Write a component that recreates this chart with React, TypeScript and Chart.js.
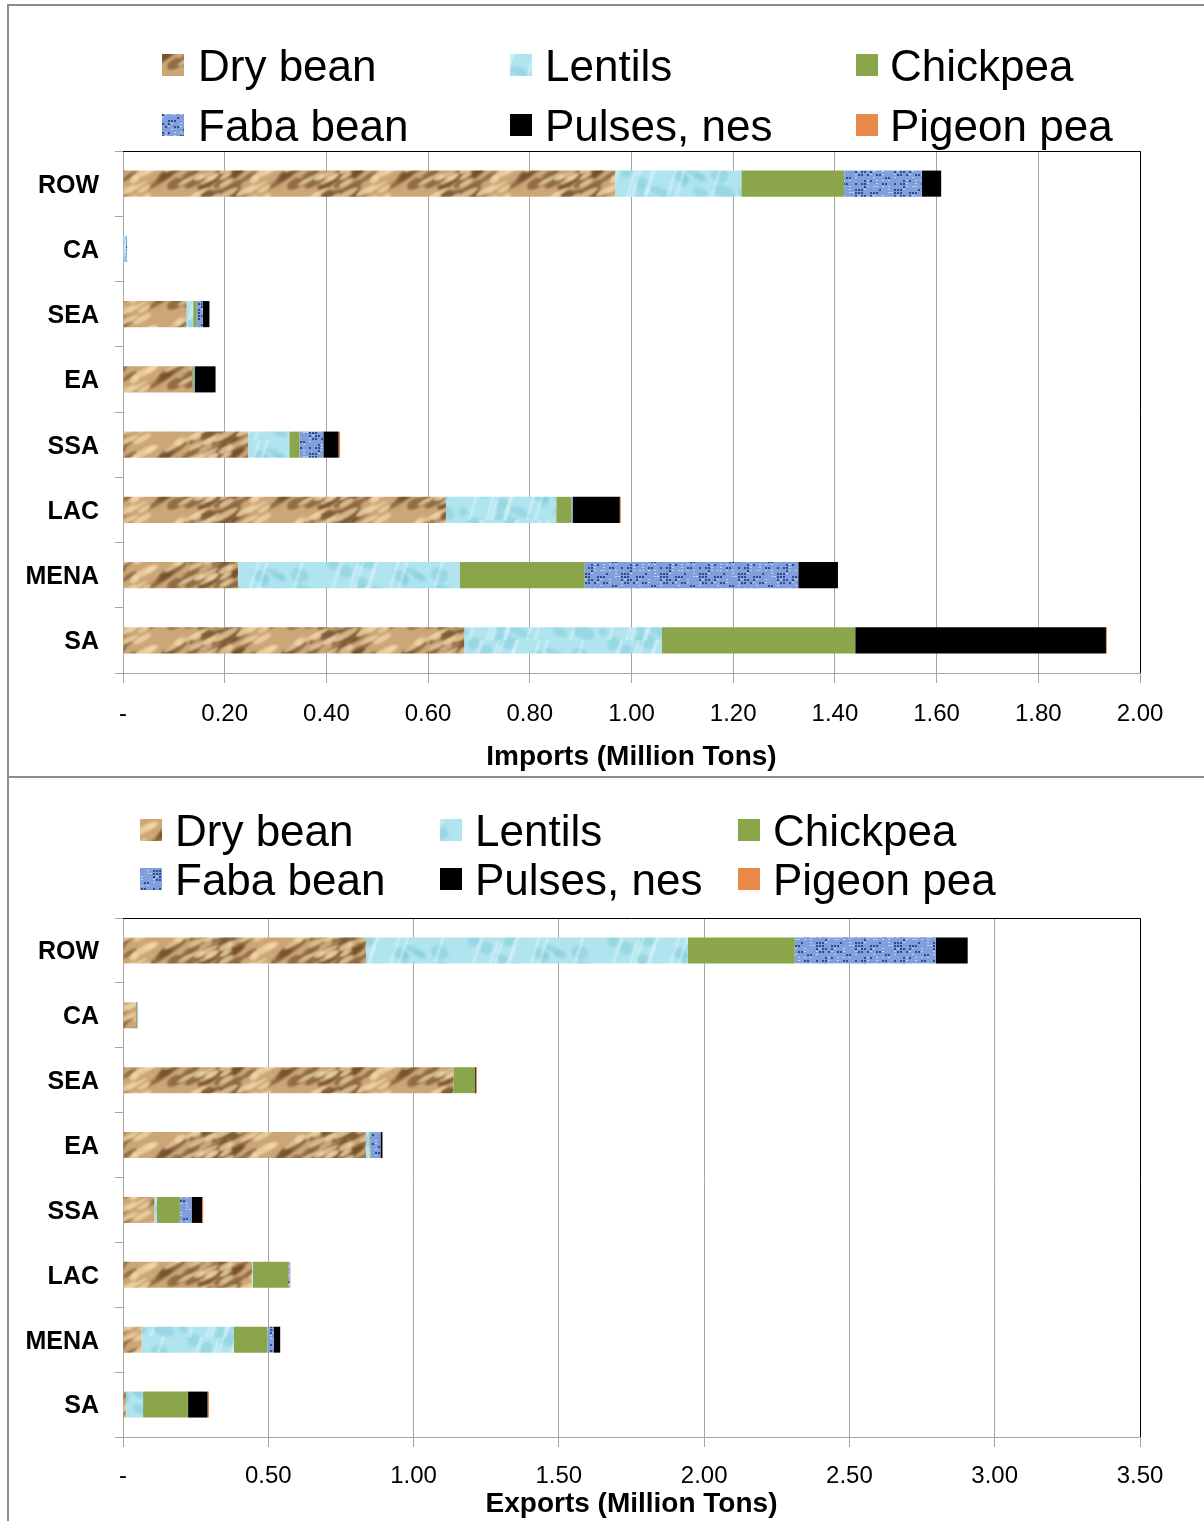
import React, { useEffect, useRef } from 'react';
import { Chart, registerables } from 'chart.js';
Chart.register(...registerables);

const regions = ['ROW', 'CA', 'SEA', 'EA', 'SSA', 'LAC', 'MENA', 'SA'];
const pulseTypes = ['Dry bean', 'Lentils', 'Chickpea', 'Faba bean', 'Pulses, nes', 'Pigeon pea'];

const importsDryBean = [0.968, 0, 0.125, 0.136, 0.246, 0.635, 0.226, 0.671];
const importsLentils = [0.248, 0.006, 0.013, 0, 0.081, 0.217, 0.436, 0.389];
const importsChickpea = [0.202, 0, 0.007, 0.003, 0.02, 0.03, 0.246, 0.38];
const importsFabaBean = [0.153, 0.002, 0.012, 0.002, 0.047, 0.003, 0.42, 0];
const importsPulsesNes = [0.038, 0, 0.013, 0.041, 0.03, 0.092, 0.078, 0.493];
const importsPigeonPea = [0, 0, 0, 0, 0.003, 0.002, 0, 0.002];

const exportsDryBean = [0.836, 0.045, 1.137, 0.836, 0.108, 0.444, 0.064, 0.01];
const exportsLentils = [1.108, 0, 0, 0.012, 0.009, 0.003, 0.318, 0.059];
const exportsChickpea = [0.368, 0.002, 0.075, 0.003, 0.079, 0.121, 0.115, 0.155];
const exportsFabaBean = [0.485, 0, 0, 0.035, 0.04, 0.005, 0.022, 0];
const exportsPulsesNes = [0.11, 0.002, 0.003, 0.007, 0.036, 0, 0.022, 0.067];
const exportsPigeonPea = [0, 0, 0.003, 0, 0.004, 0.003, 0, 0.005];

const importsAxis = { max: 2.0, step: 0.2, title: 'Imports (Million Tons)' };
const exportsAxis = { max: 3.5, step: 0.5, title: 'Exports (Million Tons)' };

const FONT = '"Liberation Sans", Arial, sans-serif';

function makeRand(seed: number) {
  let s = seed;
  return () => {
    s = (s * 16807) % 2147483647;
    return s / 2147483647;
  };
}

function tile(w: number, h: number, draw: (c: CanvasRenderingContext2D) => void) {
  const cv = document.createElement('canvas');
  cv.width = w;
  cv.height = h;
  const c = cv.getContext('2d')!;
  draw(c);
  return cv;
}

// draw an ellipse with wrapped copies so the tile is seamless
function wrapEllipse(c: CanvasRenderingContext2D, w: number, h: number, x: number, y: number, rx: number, ry: number, rot: number) {
  for (const dx of [-w, 0, w]) {
    for (const dy of [-h, 0, h]) {
      c.beginPath();
      c.ellipse(x + dx, y + dy, rx, ry, rot, 0, Math.PI * 2);
      c.fill();
    }
  }
}

function makeFills(ctx: CanvasRenderingContext2D) {
  const dry = tile(120, 40, (c) => {
    c.fillStyle = '#CCA676';
    c.fillRect(0, 0, 120, 40);
    const r = makeRand(7);
    c.filter = 'blur(1.2px)';
    for (let i = 0; i < 26; i++) {
      const x = r() * 120, y = r() * 40;
      c.fillStyle = 'rgba(105,70,36,0.6)';
      wrapEllipse(c, 120, 40, x, y, 7 + r() * 12, 2 + r() * 3, -0.55);
    }
    for (let i = 0; i < 24; i++) {
      const x = r() * 120, y = r() * 40;
      c.fillStyle = 'rgba(242,216,170,0.75)';
      wrapEllipse(c, 120, 40, x, y, 5 + r() * 9, 1.5 + r() * 2, -0.5);
    }
  });
  const lent = tile(140, 40, (c) => {
    c.fillStyle = '#B0E4EE';
    c.fillRect(0, 0, 140, 40);
    const r = makeRand(11);
    c.filter = 'blur(1px)';
    for (let i = 0; i < 14; i++) {
      c.fillStyle = 'rgba(125,200,215,0.45)';
      wrapEllipse(c, 140, 40, r() * 140, r() * 40, 4 + r() * 8, 3 + r() * 5, 0.4);
    }
    c.strokeStyle = 'rgba(228,248,252,0.9)';
    c.lineWidth = 1.5;
    for (let i = 0; i < 8; i++) {
      const x = r() * 110 + 10;
      c.beginPath();
      c.moveTo(x, 42);
      c.quadraticCurveTo(x + 6, 20, x + 14, -2);
      c.stroke();
    }
  });
  const faba = tile(39, 24, (c) => {
    c.fillStyle = '#819FDB';
    c.fillRect(0, 0, 39, 24);
    const r = makeRand(23);
    for (let y = 0; y < 24; y += 3) {
      for (let x = 0; x < 39; x += 3) {
        const v = r();
        if (v < 0.32) {
          c.fillStyle = '#2F4C8F';
          c.fillRect(x, y, 2, 2);
        } else if (v > 0.72) {
          c.fillStyle = '#C4D5F6';
          c.fillRect(x, y, 2, 1);
        }
      }
    }
  });
  return [
    ctx.createPattern(dry, 'repeat')!,
    ctx.createPattern(lent, 'repeat')!,
    '#8BA54B',
    ctx.createPattern(faba, 'repeat')!,
    '#000000',
    '#E8894A',
  ];
}

type LegendLayout = { iconX: number[]; textX: number[]; rowY: number[] };

function StackedChart(props: {
  series: number[][];
  axis: { max: number; step: number; title: string };
  height: number;
  padTop: number;
  padBottom: number;
  axisHeight: number;
  tickPad: number;
  legend: LegendLayout;
}) {
  const ref = useRef<HTMLCanvasElement | null>(null);
  useEffect(() => {
    const canvas = ref.current!;
    const ctx = canvas.getContext('2d')!;
    const fills = makeFills(ctx);
    const { legend } = props;

    const legendPlugin = {
      id: 'customLegend',
      afterDraw(chart: any) {
        const c = chart.ctx;
        c.save();
        pulseTypes.forEach((name, i) => {
          const col = i % 3;
          const row = Math.floor(i / 3);
          const cy = legend.rowY[row];
          c.fillStyle = fills[i];
          c.fillRect(legend.iconX[col], cy - 11, 22, 22);
          c.fillStyle = '#000';
          c.font = `44px ${FONT}`;
          c.textBaseline = 'alphabetic';
          c.textAlign = 'left';
          c.fillText(name, legend.textX[col], cy + 16);
        });
        c.restore();
      },
    };
    const borderPlugin = {
      id: 'plotBorder',
      afterDraw(chart: any) {
        const { top, right, left, bottom } = chart.chartArea;
        const c = chart.ctx;
        c.save();
        c.strokeStyle = '#000';
        c.lineWidth = 1;
        c.beginPath();
        c.moveTo(left, top + 0.5);
        c.lineTo(right + 0.5, top + 0.5);
        c.lineTo(right + 0.5, bottom);
        c.stroke();
        c.restore();
      },
    };

    const chart = new Chart(ctx, {
      type: 'bar',
      data: {
        labels: regions,
        datasets: pulseTypes.map((name, i) => ({
          label: name,
          data: props.series[i],
          backgroundColor: fills[i] as any,
          borderWidth: 0,
          barPercentage: 0.4,
          categoryPercentage: 1,
        })),
      },
      options: {
        indexAxis: 'y',
        animation: false,
        responsive: false,
        maintainAspectRatio: false,
        layout: { padding: { top: props.padTop, right: 64, left: 0, bottom: props.padBottom } },
        plugins: { legend: { display: false }, tooltip: { enabled: false }, title: { display: false } },
        scales: {
          x: {
            stacked: true,
            min: 0,
            max: props.axis.max,
            ticks: {
              stepSize: props.axis.step,
              autoSkip: false,
              maxRotation: 0,
              color: '#000',
              padding: props.tickPad,
              font: { family: FONT, size: 24 },
              callback: (v: any) => (Number(v) === 0 ? '-' : Number(v).toFixed(2)),
            },
            grid: { color: '#A6A6A6', tickLength: 10, lineWidth: 1 },
            border: { color: '#A6A6A6' },
            title: {
              display: true,
              text: props.axis.title,
              color: '#000',
              padding: 0,
              font: { family: FONT, size: 28, weight: 'bold' },
            },
            afterFit: (s: any) => {
              s.height = props.axisHeight;
            },
          } as any,
          y: {
            stacked: true,
            ticks: { color: '#000', padding: 16, labelOffset: 2, font: { family: FONT, size: 25, weight: 'bold' } },
            grid: { offset: true, drawOnChartArea: false, tickLength: 8, color: '#A6A6A6' },
            border: { color: '#A6A6A6' },
            afterFit: (s: any) => {
              s.width = 123;
            },
          } as any,
        },
      },
      plugins: [legendPlugin, borderPlugin],
    });
    return () => chart.destroy();
  }, []);
  return <canvas ref={ref} width={1204} height={props.height} style={{ display: 'block', width: 1204, height: props.height }} />;
}

export default function App() {
  const importsSeries = [importsDryBean, importsLentils, importsChickpea, importsFabaBean, importsPulsesNes, importsPigeonPea];
  const exportsSeries = [exportsDryBean, exportsLentils, exportsChickpea, exportsFabaBean, exportsPulsesNes, exportsPigeonPea];
  const line = '#8C8C8C';
  return (
    <div style={{ position: 'absolute', left: 0, top: 0, width: 1204, height: 1521, overflow: 'hidden', background: '#fff' }}>
      <div style={{ position: 'absolute', left: 0, top: 0 }}>
        <StackedChart
          series={importsSeries}
          axis={importsAxis}
          height={777}
          padTop={151}
          padBottom={3}
          axisHeight={101}
          tickPad={17}
          legend={{ iconX: [162, 510, 856], textX: [198, 545, 890], rowY: [65, 125] }}
        />
      </div>
      <div style={{ position: 'absolute', left: 0, top: 777 }}>
        <StackedChart
          series={exportsSeries}
          axis={exportsAxis}
          height={744}
          padTop={141}
          padBottom={0}
          axisHeight={84}
          tickPad={15}
          legend={{ iconX: [140, 440, 738], textX: [175, 475, 773], rowY: [53, 102] }}
        />
      </div>
      <div style={{ position: 'absolute', left: 7, top: 4, width: 2, height: 1517, background: line }} />
      <div style={{ position: 'absolute', left: 7, top: 4, width: 1197, height: 2, background: line }} />
      <div style={{ position: 'absolute', left: 7, top: 776, width: 1197, height: 2, background: line }} />
    </div>
  );
}
